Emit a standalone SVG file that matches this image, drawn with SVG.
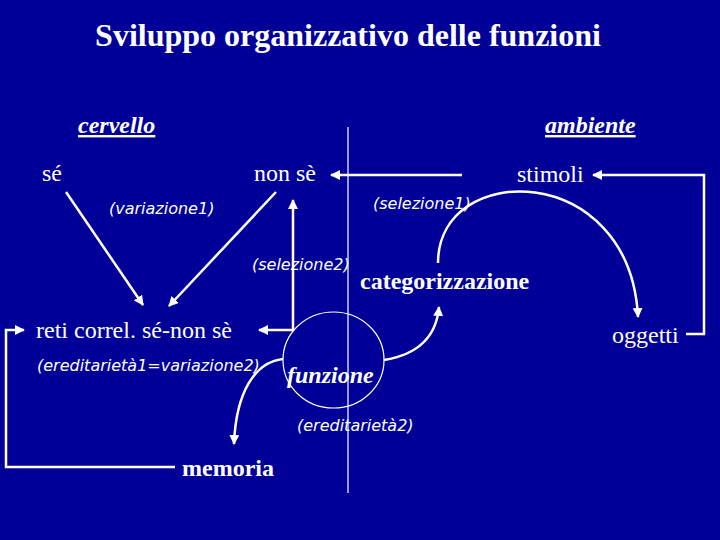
<svg xmlns="http://www.w3.org/2000/svg" width="720" height="540" viewBox="0 0 720 540">
<style>
.t{font-family:"Liberation Serif","Times New Roman",serif;fill:#fff;font-size:24px}
.b{font-weight:bold}
.bi{font-weight:bold;font-style:italic;text-decoration:underline}
.l{font-family:"DejaVu Sans","Liberation Sans",sans-serif;font-weight:200;font-style:italic;font-size:16px;fill:#fff}
.c{fill:none;stroke:#fff;stroke-width:2.5}
.thin{fill:none;stroke:#fff;stroke-width:1.2}
</style>
<defs>
<marker id="ah" viewBox="0 0 10 10" refX="9" refY="5" markerWidth="4" markerHeight="4" orient="auto-start-reverse" markerUnits="strokeWidth">
<path d="M0,0 L10,5 L0,10 z" fill="#fff"/>
</marker>
</defs>
<rect width="720" height="540" fill="#000099"/>
<text class="t b" x="348" y="46" text-anchor="middle" style="font-size:32px">Sviluppo organizzativo delle funzioni</text>
<line class="thin" x1="348" y1="127" x2="348" y2="493"/>
<g id="cervello"><text class="t bi" x="78" y="133">cervello</text></g>
<g id="ambiente"><text class="t bi" x="545" y="133">ambiente</text></g>
<g id="se"><text class="t" x="42" y="181">sé</text></g>
<g id="nonse"><text class="t" x="254" y="181">non sè</text></g>
<g id="stimoli"><text class="t" x="517" y="182">stimoli</text></g>
<g id="oggetti"><text class="t" x="612" y="343">oggetti</text></g>
<g id="categorizzazione"><text class="t b" x="360" y="289">categorizzazione</text></g>
<g id="reti"><text class="t" x="36" y="338">reti correl. sé-non sè</text></g>
<g id="memoria"><text class="t b" x="182" y="476">memoria</text></g>
<g id="funzione">
<ellipse class="thin" cx="333.5" cy="360" rx="50.5" ry="48"/>
<text class="t" x="287" y="383" style="font-weight:bold;font-style:italic">funzione</text>
</g>
<g id="labels">
<text class="l" x="109" y="214">(variazione1)</text>
<text class="l" x="373" y="209">(selezione1)</text>
<text class="l" x="252" y="270">(selezione2)</text>
<text class="l" x="37" y="371">(ereditarietà1=variazione2)</text>
<text class="l" x="297" y="431">(ereditarietà2)</text>
</g>
<g id="connectors">
<line class="c" x1="66" y1="192" x2="143" y2="305" marker-end="url(#ah)"/>
<line class="c" x1="276" y1="192" x2="169" y2="306" marker-end="url(#ah)"/>
<line class="c" x1="462" y1="175" x2="331" y2="175" marker-end="url(#ah)"/>
<polyline class="c" points="686,334 704,334 704,175 593,175" marker-end="url(#ah)"/>
<polyline class="c" points="259,330 293,330 293,200" marker-start="url(#ah)" marker-end="url(#ah)"/>
<polyline class="c" points="175,467 6,467 6,330 24,330" marker-end="url(#ah)"/>
<path class="c" d="M438,263 C438,160 630,160 638,317" marker-end="url(#ah)"/>
<path class="c" d="M384,360 C415,355 436,340 439,307" marker-end="url(#ah)"/>
<path class="c" d="M283,359 C255,362 236,392 234,444" marker-end="url(#ah)"/>
</g>
</svg>
